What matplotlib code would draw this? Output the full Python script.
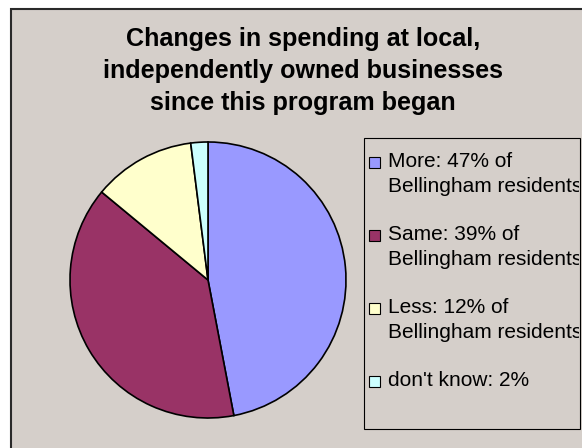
import matplotlib
matplotlib.use("Agg")
import matplotlib.pyplot as plt
from matplotlib.patches import Rectangle
from matplotlib.transforms import Bbox

plt.rcParams['font.family'] = ['Liberation Sans', 'DejaVu Sans']

# Survey results
categories = ["More", "Same", "Less", "don't know"]
values = [47, 39, 12, 2]
colors = ["#9999FF", "#993366", "#FFFFCC", "#CCFFFF"]
legend_lines = [
    ["More: 47% of", "Bellingham residents"],
    ["Same: 39% of", "Bellingham residents"],
    ["Less: 12% of", "Bellingham residents"],
    ["don't know: 2%"],
]
title_lines = [
    "Changes in spending at local,",
    "independently owned businesses",
    "since this program began",
]

W, H = 582, 448
bg = "#D5CFCA"

fig = plt.figure(figsize=(W / 100, H / 100), dpi=100, facecolor="white")

# Overlay axes in pixel coordinates (origin at top-left)
ov = fig.add_axes([0, 0, 1, 1], zorder=0)
ov.set_xlim(0, W)
ov.set_ylim(H, 0)
ov.axis("off")

# Chart area
ov.add_patch(Rectangle((10.5, 9.5), 600, 500, facecolor=bg,
                       edgecolor="#2a2a2a", linewidth=1.5))

# Title
for i, line in enumerate(title_lines):
    ov.text(303, 46 + 32 * i, line, ha="center", va="baseline",
            fontsize=18.1, fontweight="bold", color="black")

# Legend box; entry text is clipped to its frame (display pixels, dpi 100)
lx0, ly0, lw, lh = 363.5, 138.5, 216.5, 290.5
ov.add_patch(Rectangle((lx0, ly0), lw, lh, facecolor=bg,
                       edgecolor="black", linewidth=0.8, zorder=2))
clip = Bbox.from_extents(lx0, H - ly0 - lh, lx0 + lw - 1, H - ly0)
for i, lines in enumerate(legend_lines):
    base = 167 + 73 * i
    ov.add_patch(Rectangle((369, base - 10), 11, 11, facecolor=colors[i],
                           edgecolor="black", linewidth=0.8, zorder=3))
    for j, txt in enumerate(lines):
        t = ov.text(388, base + 25 * j, txt, ha="left", va="baseline",
                    fontsize=15, color="black", zorder=3)
        t.set_clip_box(clip)
        t.set_clip_on(True)

# Pie
ax = fig.add_axes([70 / W, 30 / H, 276 / W, 276 / H], zorder=1)
ax.pie(values, colors=colors, startangle=90, counterclock=False,
       wedgeprops=dict(edgecolor="black", linewidth=1.2))
ax.set_xlim(-1, 1)
ax.set_ylim(-1, 1)
ax.set_aspect("equal")
ax.axis("off")
for p in ax.patches:
    p.set_clip_on(False)

fig.savefig("out.png", dpi=100, facecolor="white")
